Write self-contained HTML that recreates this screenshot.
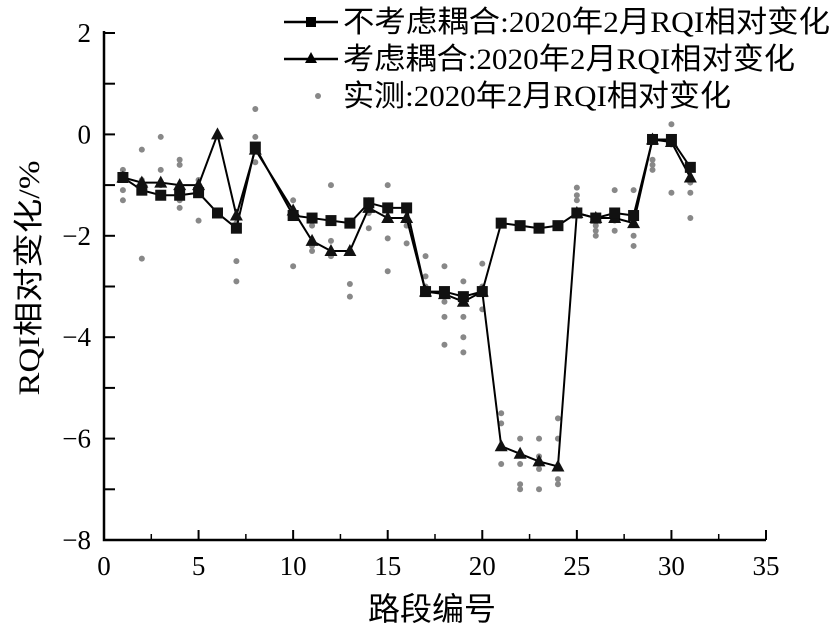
<!DOCTYPE html>
<html><head><meta charset="utf-8"><style>
html,body{margin:0;padding:0;background:#fff;}
svg{display:block;font-family:"Liberation Serif","Noto Sans CJK SC",serif;}
</style></head><body>
<svg id="chart" width="839" height="637" viewBox="0 0 839 637" xmlns="http://www.w3.org/2000/svg"></svg>
<script>
const xTicks=[0,5,10,15,20,25,30,35];
const yTicks=[2,0,-2,-4,-6,-8];
const xsNoCoupling=[1,2,3,4,5,6,7,8,10,11,12,13,14,15,16,17,18,19,20,21,22,23,24,25,26,27,28,29,30,31];
const noCoupling=[-0.85,-1.1,-1.2,-1.2,-1.15,-1.55,-1.85,-0.25,-1.6,-1.65,-1.7,-1.75,-1.35,-1.45,-1.45,-3.1,-3.1,-3.2,-3.1,-1.75,-1.8,-1.85,-1.8,-1.55,-1.65,-1.55,-1.6,-0.1,-0.1,-0.65];
const coupling=[-0.85,-0.95,-0.95,-1.0,-1.0,0.0,-1.6,-0.3,-1.5,-2.1,-2.3,-2.3,-1.45,-1.65,-1.65,-3.1,-3.15,-3.3,-3.1,-6.15,-6.3,-6.45,-6.55,-1.55,-1.65,-1.65,-1.75,-0.1,-0.15,-0.85];
const measuredX=[1,1,1,1,2,2,2,2,3,3,3,4,4,4,4,5,5,5,6,7,7,7,8,8,8,10,10,10,11,11,11,12,12,12,13,13,13,14,14,14,15,15,15,16,16,16,17,17,17,18,18,18,18,19,19,19,19,20,20,20,21,21,21,22,22,22,22,23,23,23,23,24,24,24,24,25,25,25,26,26,26,27,27,27,28,28,28,29,29,29,30,30,30,31,31,31];
const measuredY=[-0.7,-0.8,-1.1,-1.3,-0.3,-0.9,-1.0,-2.45,-0.05,-0.7,-1.0,-0.5,-0.6,-1.3,-1.45,-0.9,-1.0,-1.7,0.0,-1.75,-2.5,-2.9,0.5,-0.05,-0.55,-1.3,-1.6,-2.6,-1.8,-2.2,-2.3,-1.0,-2.1,-2.4,-2.3,-2.95,-3.2,-1.3,-1.55,-1.85,-1.0,-2.05,-2.7,-1.5,-1.8,-2.15,-2.4,-2.8,-3.0,-2.6,-3.3,-3.6,-4.15,-2.9,-3.6,-4.0,-4.3,-2.55,-3.0,-3.45,-5.5,-5.7,-6.5,-6.0,-6.5,-6.9,-7.0,-6.0,-6.35,-6.6,-7.0,-5.6,-6.0,-6.8,-6.9,-1.05,-1.2,-1.3,-1.8,-1.9,-2.0,-1.1,-1.7,-1.9,-1.1,-2.0,-2.2,-0.5,-0.6,-0.7,0.2,-0.2,-1.15,-0.95,-1.15,-1.65];
const NS="http://www.w3.org/2000/svg";
const svg=document.getElementById('chart');
const X0=104,X1=766,Y0=540,Y1=33;
const sx=v=>X0+(v-0)/(35-0)*(X1-X0);
const sy=v=>Y0-(v+8)/(10)*(Y0-Y1);
function mk(tag,attrs,parent){const e=document.createElementNS(NS,tag);for(const k in attrs)e.setAttribute(k,attrs[k]);(parent||svg).appendChild(e);return e;}
let ax=mk('path',{d:`M${X0} ${Y1-2}V${Y0}H${X1}`,stroke:'#000','stroke-width':2.5,fill:'none'});


for(const t of xTicks){
  const tk=mk('line',{x1:sx(t),x2:sx(t),y1:Y0,y2:Y0-10,stroke:'#000','stroke-width':2});
  
  
  const tl=mk('text',{x:sx(t),y:Y0+35,'text-anchor':'middle','font-size':27});
  tl.textContent=t;
  
  
}
for(let t=2.5;t<35;t+=5){
  const tk=mk('line',{x1:sx(t),x2:sx(t),y1:Y0,y2:Y0-6,stroke:'#000','stroke-width':1.5});
  
  
}
for(const t of yTicks){
  const tl=mk('text',{x:X0-13,y:sy(t)+9,'text-anchor':'end','font-size':27});
  tl.textContent=(t<0?'\u2212'+(-t):t);
  
  
}
for(let t=2;t>=-8;t-=1){
  const tk=mk('line',{x1:X0,x2:X0+11,y1:sy(t),y2:sy(t),stroke:'#000','stroke-width':2});
  
  
}
for(let i=0;i<measuredX.length;i++){
  const d=mk('circle',{cx:sx(measuredX[i]),cy:sy(measuredY[i]),r:3,fill:'#888'});
  
  
}
function line(vals,name){
  const p=mk('polyline',{points:xsNoCoupling.map((x,i)=>sx(x)+','+sy(vals[i])).join(' '),fill:'none',stroke:'#000','stroke-width':2});
  
  
}
line(coupling,'coupling-line');
line(noCoupling,'no-coupling-line');
for(let i=0;i<xsNoCoupling.length;i++){
  const x=sx(xsNoCoupling[i]),y=sy(coupling[i]);
  const m=mk('path',{d:`M${x} ${y-7}L${x+6.5} ${y+5}L${x-6.5} ${y+5}Z`,fill:'#111'});
  
  
}
for(let i=0;i<xsNoCoupling.length;i++){
  const m=mk('rect',{x:sx(xsNoCoupling[i])-5.5,y:sy(noCoupling[i])-5.5,width:11,height:11,fill:'#111'});
  
  
}
const lg=mk('g',{});


const entries=[['不考虑耦合:2020年2月RQI相对变化','sq',22,487],['考虑耦合:2020年2月RQI相对变化','tri',59,452],['实测:2020年2月RQI相对变化','dot',96,388]];
for(const [txt,type,y,w] of entries){
  const g=mk('g',{},lg);
  
  
  if(type!=='dot'){
    mk('line',{x1:284,x2:338,y1:y,y2:y,stroke:'#000','stroke-width':2.5},g);
    if(type==='sq')mk('rect',{x:306,y:y-5,width:10,height:10,fill:'#000'},g);
    else mk('path',{d:`M311 ${y-7}L317 ${y+4}L305 ${y+4}Z`,fill:'#000'},g);
  } else mk('circle',{cx:318,cy:y,r:3,fill:'#888'},g);
  const t=mk('text',{x:343,y:y+10,'font-size':30,textLength:w,lengthAdjust:'spacingAndGlyphs'},g);
  t.textContent=txt;
}
const xt=mk('text',{x:432,y:620,'text-anchor':'middle','font-size':32});
xt.textContent='路段编号';


const yt=mk('text',{x:0,y:0,'text-anchor':'middle','font-size':30,textLength:235,lengthAdjust:'spacingAndGlyphs',transform:'translate(39,278) rotate(-90)'});
yt.textContent='RQI相对变化/%';


</script>
</body></html>
